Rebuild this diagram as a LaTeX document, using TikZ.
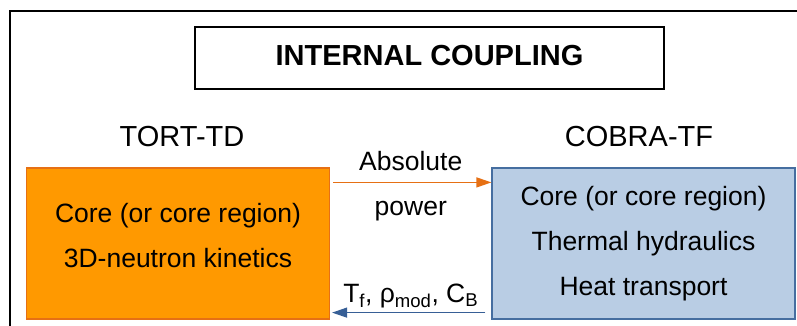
\documentclass[tikz,border=0pt]{standalone}
\usepackage{fontspec}
\setmainfont{Liberation Sans}
\usetikzlibrary{arrows.meta,positioning}
\definecolor{naranja}{RGB}{255,153,0}
\definecolor{naranjaborde}{RGB}{230,112,20}
\definecolor{azulclaro}{RGB}{185,205,228}
\definecolor{azulborde}{RGB}{70,110,160}
\definecolor{azulflecha}{RGB}{55,95,150}
\begin{document}
\begin{tikzpicture}[x=1pt, y=-1pt,
  every node/.style={font=\fontsize{26.5}{45}\selectfont},
  titulo/.style={rectangle, draw, line width=1.2pt, minimum width=469pt, minimum height=62pt,
    font=\fontsize{29}{34}\selectfont\bfseries, text depth=6pt},
  codigo/.style={font=\fontsize{29}{34}\selectfont, inner sep=0pt},
  caja/.style={rectangle, line width=1.2pt, minimum width=303pt, minimum height=151pt, inner sep=0pt},
  texto/.style={align=center, inner sep=0pt},
  etiqueta/.style={inner sep=0pt, text=black},
  flecha/.style={line width=1.3pt, -{Triangle[length=15pt,width=10pt]}}]
\useasboundingbox (0,0) rectangle (797,325);
\clip (0,0) rectangle (797,325);
\draw[line width=1.3pt] (10,11) rectangle (830,360);
\node[titulo] (titulo) at (429.5,58) {INTERNAL COUPLING};
\node[codigo] (tort) at (182,136.5) {TORT-TD};
\node[codigo] (cobra) at (639,136.5) {COBRA-TF};
\node[caja, draw=naranjaborde, fill=naranja] (tortcaja) at (178,243.5) {};
\node[caja, draw=azulborde, fill=azulclaro] (cobracaja) at (643.5,243.5) {};
\node[texto] (torttexto) at ([yshift=7.6pt]tortcaja.center) {Core (or core region)\\3D-neutron kinetics};
\node[texto] (cobratexto) at (cobracaja.center) {Core (or core region)\\Thermal hydraulics\\Heat transport};
\draw[flecha, naranjaborde, shorten <=3pt] ([yshift=-15pt]tortcaja.north east)
  -- node[etiqueta, above=11pt]{Absolute} node[etiqueta, below=18.5pt]{power}
  ([yshift=-15pt]cobracaja.north west);
\draw[flecha, azulflecha, shorten <=6pt, shorten >=2pt] ([yshift=7pt]cobracaja.south west)
  -- node[etiqueta, above=4pt]{T\textsubscript{f}, ρ\textsubscript{mod}, C\textsubscript{B}}
  ([yshift=7pt]tortcaja.south east);
\end{tikzpicture}
\end{document}
